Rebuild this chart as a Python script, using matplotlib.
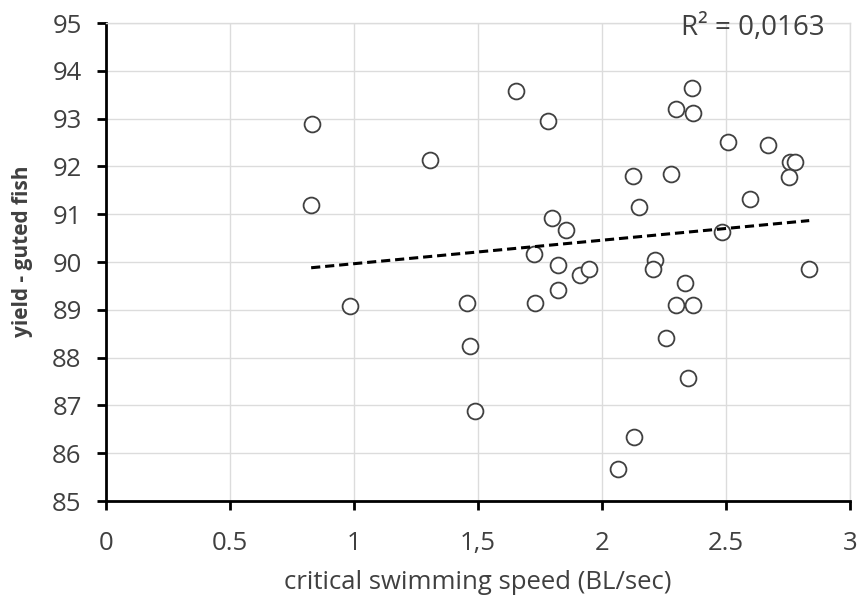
import numpy as np
import matplotlib.pyplot as plt

# critical swimming speed (BL/sec) vs. yield of gutted fish (%)
speed = [0.830, 0.827, 0.984, 1.306, 1.455, 1.468, 1.488, 1.653, 1.782, 1.798,
         1.855, 1.726, 1.823, 1.823, 1.730, 1.911, 1.948, 2.125, 2.149, 2.214,
         2.206, 2.258, 2.129, 2.065, 2.298, 2.363, 2.367, 2.278, 2.335, 2.298,
         2.367, 2.347, 2.508, 2.669, 2.758, 2.778, 2.754, 2.597, 2.484, 2.835]
yield_gutted = [92.89, 91.19, 89.08, 92.13, 89.14, 88.24, 86.88, 93.58, 92.95, 90.92,
                90.67, 90.17, 89.94, 89.41, 89.14, 89.73, 89.85, 91.80, 91.15, 90.04,
                89.85, 88.41, 86.34, 85.67, 93.20, 93.64, 93.12, 91.84, 89.56, 89.10,
                89.10, 87.57, 92.51, 92.45, 92.09, 92.09, 91.78, 91.32, 90.63, 89.85]

x_ticks = [0, 0.5, 1, 1.5, 2, 2.5, 3]
x_tick_labels = ['0', '0.5', '1', '1,5', '2', '2.5', '3']
y_ticks = [85, 86, 87, 88, 89, 90, 91, 92, 93, 94, 95]
r2_label = 'R² = 0,0163'

plt.rcParams['font.family'] = ['Open Sans', 'DejaVu Sans']
text_color = '#404040'

fig = plt.figure(figsize=(8.57, 5.99), dpi=100)
ax = fig.add_axes([0.1237, 0.1636, 0.992 - 0.1237, 0.9616 - 0.1636])

ax.scatter(speed, yield_gutted, s=130, facecolors='white', edgecolors='#404040',
           linewidths=1.3, zorder=3)

# linear trend line over the data range
slope, intercept = np.polyfit(speed, yield_gutted, 1)
xs = np.array([min(speed), max(speed)])
ax.plot(xs, slope * xs + intercept, color='black', linestyle=(0, (3, 1.6)),
        linewidth=2.2, zorder=4)

ax.set_xlim(0, 3)
ax.set_ylim(85, 95)
ax.set_xticks(x_ticks)
ax.set_xticklabels(x_tick_labels)
ax.set_yticks(y_ticks)
ax.grid(True, color='#dcdcdc', linewidth=1.0)
ax.set_axisbelow(True)

for side in ['top', 'right']:
    ax.spines[side].set_color('#dcdcdc')
    ax.spines[side].set_linewidth(1.0)
for side in ['left', 'bottom']:
    ax.spines[side].set_color('black')
    ax.spines[side].set_linewidth(2.0)

ax.tick_params(axis='both', direction='out', length=6.5, width=2, color='black',
               labelsize=18.5, labelcolor=text_color)
ax.tick_params(axis='y', pad=11)
ax.tick_params(axis='x', pad=15)

ax.set_xlabel('critical swimming speed (BL/sec)', fontsize=18.5, color=text_color, labelpad=10)
ax.set_ylabel('yield - guted fish', fontsize=15, fontweight='bold', color=text_color)
ax.yaxis.set_label_coords(-0.098, 0.523)

ax.text(0.966, 0.99, r2_label, transform=ax.transAxes, ha='right', va='center',
        fontsize=20, color=text_color)

fig.savefig('out.png', dpi=100)
